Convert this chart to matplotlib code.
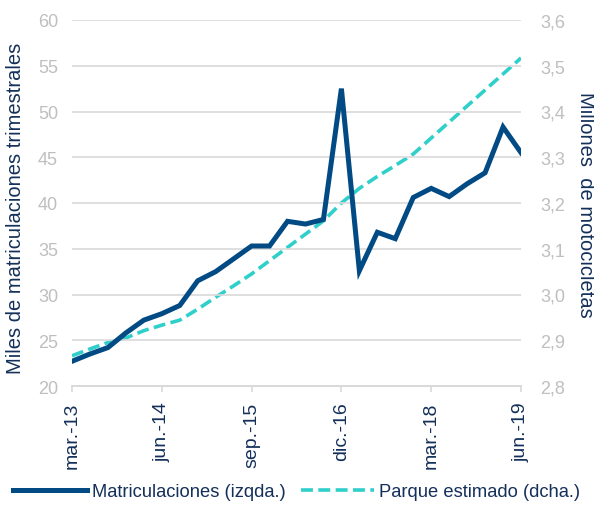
import numpy as np
import matplotlib.pyplot as plt

plt.rcParams['font.family'] = ['Liberation Sans', 'DejaVu Sans']

# Datos trimestrales (mar-13 a jun-19)
trimestres = np.arange(26)
matriculaciones = [22.7, 23.5, 24.2, 25.8, 27.2, 27.9, 28.8, 31.5, 32.5, 33.9,
                   35.3, 35.3, 38.0, 37.7, 38.2, 52.5, 32.6, 36.8, 36.1, 40.6,
                   41.6, 40.7, 42.1, 43.3, 48.3, 45.5]
parque = [2.866, 2.881, 2.895, 2.905, 2.921, 2.933, 2.944, 2.968, 2.994, 3.019,
          3.045, 3.074, 3.103, 3.132, 3.161, 3.200, 3.232, 3.258, 3.282, 3.307,
          3.342, 3.377, 3.412, 3.447, 3.482, 3.517]
pos_ticks = [0, 5, 10, 15, 20, 25]
etiquetas = ['mar.-13', 'jun.-14', 'sep.-15', 'dic.-16', 'mar.-18', 'jun.-19']

azul = '#014a84'
cian = '#2fcfca'
gris = '#bfbfbf'
texto_azul = '#14305a'

fig = plt.figure(figsize=(5.94, 5.06), dpi=100)
ax = fig.add_axes([72/594, 1-387/506, (521-72)/594, (387-21)/506])
ax2 = ax.twinx()

l1, = ax.plot(trimestres, matriculaciones, color=azul, lw=3.6,
              solid_joinstyle='miter', label='Matriculaciones (izqda.)', zorder=3)
l2, = ax2.plot(trimestres, parque, color=cian, lw=2.6, dashes=(3.3, 1.5),
               label='Parque estimado (dcha.)')
ax.set_zorder(ax2.get_zorder() + 1)
ax.patch.set_visible(False)

ax.set_xlim(0, 25)
ax.set_ylim(20, 60)
ax.set_yticks(np.arange(20, 61, 5))
ax2.set_ylim(2.8, 3.6)
ax2.set_yticks(np.arange(2.8, 3.61, 0.1))
ax2.set_yticklabels([f'{v:.1f}'.replace('.', ',') for v in np.arange(2.8, 3.61, 0.1)])

ax.grid(axis='y', color='#d9d9d9', lw=1.2)
ax.set_xticks(pos_ticks)
ax.set_xticklabels(etiquetas, rotation=90, fontsize=14, color=texto_azul)
ax.tick_params(axis='x', length=4, color='#d9d9d9', width=1.2, pad=7)
ax.tick_params(axis='y', length=0, labelsize=13, labelcolor=gris, pad=10)
ax2.tick_params(axis='y', length=0, labelsize=13, labelcolor=gris, pad=14)

for a in (ax, ax2):
    for lado in ('top', 'left', 'right'):
        a.spines[lado].set_visible(False)
    a.spines['bottom'].set_color('#d9d9d9')
    a.spines['bottom'].set_linewidth(1.2)

fig.text(16/594, 1-208/506, 'Miles de matriculaciones trimestrales', rotation=90,
         ha='center', va='center', fontsize=14.5, color=texto_azul)
fig.text(586/594, 1-205/506, 'Millones  de motocicletas', rotation=270,
         ha='center', va='center', fontsize=14.5, color=texto_azul)

fig.legend(handles=[l1, l2], loc='center', bbox_to_anchor=(0.5, 1-493/506),
           ncol=2, frameon=False, fontsize=13.2, handlelength=4.0,
           handletextpad=0.3, columnspacing=0.8, labelcolor=texto_azul)

fig.savefig('out.png', dpi=100)
